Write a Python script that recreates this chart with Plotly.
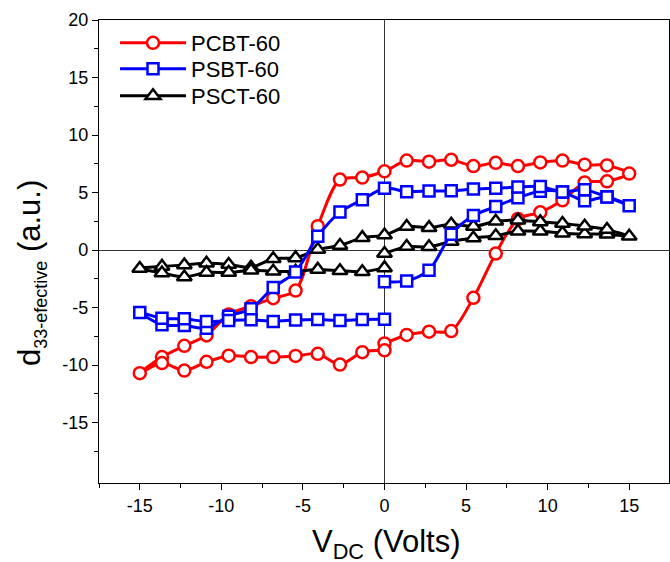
import plotly.graph_objects as go

# Voltage sweep: 0 -> +15 -> -15 -> 0
v_up1 = [0, 1.36, 2.73, 4.09, 5.45, 6.82, 8.18, 9.55, 10.91, 12.27, 13.64, 15]
v_down = [13.64, 12.27, 10.91, 9.55, 8.18, 6.82, 5.45, 4.09, 2.73, 1.36, 0,
          -1.36, -2.73, -4.09, -5.45, -6.82, -8.18, -9.55, -10.91, -12.27, -13.64, -15]
v_up2 = [-13.64, -12.27, -10.91, -9.55, -8.18, -6.82, -5.45, -4.09, -2.73, -1.36, 0]
v_dc = v_up1 + v_down + v_up2

pcbt = ([-8.12, -7.38, -7.10, -7.04, -4.15, -0.30, 2.70, 3.28, 4.32, 5.88, 5.98, 6.65] +
        [7.36, 7.42, 7.78, 7.62, 7.30, 7.58, 7.30, 7.85, 7.68, 7.78, 6.85,
         6.30, 6.13, 2.08, -3.52, -4.18, -4.88, -5.60, -7.42, -8.32, -9.30, -10.70] +
        [-9.82, -10.48, -9.72, -9.18, -9.30, -9.30, -9.20, -9.02, -9.95, -8.88, -8.72])

psbt = ([-2.75, -2.68, -1.76, 1.37, 3.0, 3.78, 4.55, 5.12, 5.05, 4.28, 4.64, 3.85] +
        [4.62, 5.25, 5.05, 5.52, 5.48, 5.38, 5.30, 5.15, 5.13, 5.08, 5.38,
         4.38, 3.30, 1.20, -1.90, -3.25, -5.10, -5.75, -6.80, -6.55, -6.50, -5.42] +
        [-5.92, -5.98, -6.22, -6.12, -6.06, -6.20, -6.08, -6.03, -6.12, -6.03, -6.02])

psct = ([-0.30, 0.30, 0.28, 0.75, 1.05, 1.25, 1.63, 1.63, 1.47, 1.40, 1.38, 1.20] +
        [1.78, 2.07, 2.30, 2.45, 2.60, 2.50, 2.05, 2.25, 1.95, 2.05, 1.30,
         1.08, 0.40, 0.05, -0.68, -0.75, -1.50, -1.25, -1.15, -1.30, -1.42, -1.60] +
        [-2.00, -2.35, -1.95, -1.95, -1.75, -1.85, -1.85, -1.68, -1.80, -1.88, -1.55])

names = ["PCBT-60", "PSBT-60", "PSCT-60"]
x_ticks = [-15, -10, -5, 0, 5, 10, 15]
x_ticktext = ["-15", "-10", "-5", "0", "5", "10", "15"]
x_minor = [-17.5, -12.5, -7.5, -2.5, 2.5, 7.5, 12.5, 17.5]
y_ticks = [-15, -10, -5, 0, 5, 10, 15, 20]
y_ticktext = ["-15", "-10", "-5", "0", "5", "10", "15", "20"]
y_minor = [-17.5, -12.5, -7.5, -2.5, 2.5, 7.5, 12.5, 17.5]

fig = go.Figure()
fig.add_trace(go.Scatter(x=v_dc, y=pcbt, name=names[0], mode="lines+markers", legend="legend",
                         showlegend=True,
                         line=dict(color="#ff0000", width=3, shape="spline", smoothing=0.8),
                         marker=dict(symbol="circle", size=12, color="white",
                                     line=dict(color="#ff0000", width=2.5))))
fig.add_trace(go.Scatter(x=v_dc, y=psct, name=names[2], mode="lines+markers", legend="legend3",
                         showlegend=True,
                         line=dict(color="#000000", width=3, shape="spline", smoothing=0.8),
                         marker=dict(symbol="triangle-up", size=13, color="white",
                                     line=dict(color="#000000", width=2.5))))
fig.add_trace(go.Scatter(x=v_dc, y=psbt, name=names[1], mode="lines+markers", legend="legend2",
                         showlegend=True,
                         line=dict(color="#0000ff", width=3, shape="spline", smoothing=0.8),
                         marker=dict(symbol="square", size=11, color="white",
                                     line=dict(color="#0000ff", width=2.5))))

axis_common = dict(showline=True, linecolor="black", linewidth=1.3, mirror=True,
                   ticks="outside", ticklen=6, tickwidth=1.2, tickcolor="black",
                   showgrid=False, zeroline=True, zerolinecolor="#333333", zerolinewidth=1,
                   tickfont=dict(family="Liberation Sans, Arial", size=18, color="black"))

fig.update_xaxes(range=[-17.5, 17.44], tickmode="array", tickvals=x_ticks, ticktext=x_ticktext,
                 minor=dict(tickmode="array", tickvals=x_minor, ticklen=4, tickwidth=1.2,
                            tickcolor="black", ticks="outside"),
                 **axis_common)
fig.update_yaxes(range=[-20.25, 20], tickmode="array", tickvals=y_ticks, ticktext=y_ticktext,
                 minor=dict(tickmode="array", tickvals=y_minor, ticklen=4, tickwidth=1.2,
                            tickcolor="black", ticks="outside"),
                 **axis_common)

title_font = dict(family="Liberation Sans, Arial", size=31, color="black")
fig.add_annotation(text="V<sub>DC</sub> (Volts)", xref="paper", yref="paper",
                   x=(386 - 99) / 570, y=(483 - 522) / 463, xanchor="center", yanchor="top",
                   showarrow=False, font=title_font)
fig.add_annotation(text="d<sub><span style='font-size:18px'>33-efective</span></sub> (a.u.)",
                   xref="paper", yref="paper",
                   x=(31 - 99) / 570, y=(483 - 273) / 463, xanchor="center", yanchor="middle",
                   textangle=-90, showarrow=False, font=title_font)

leg_common = dict(x=(115 - 99) / 570, xanchor="left", yanchor="middle",
                  bgcolor="rgba(0,0,0,0)", itemwidth=66,
                  font=dict(family="Liberation Sans, Arial", size=22, color="black"))
fig.update_layout(width=670, height=562, margin=dict(l=99, r=1, t=20, b=79),
                  plot_bgcolor="white", paper_bgcolor="white", showlegend=True,
                  legend=dict(y=(483 - 43) / 463, **leg_common),
                  legend2=dict(y=(483 - 69) / 463, **leg_common),
                  legend3=dict(y=(483 - 96) / 463, **leg_common))

fig.write_html("out.html", config={"displayModeBar": False},
               post_script="document.body.style.margin='0px';document.body.style.overflow='hidden';")
